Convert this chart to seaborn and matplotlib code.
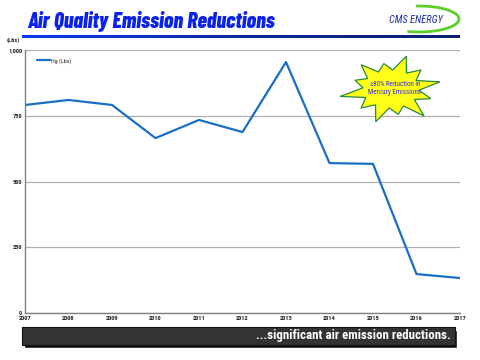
import numpy as np
import pandas as pd
import matplotlib
matplotlib.use("Agg")
import matplotlib.pyplot as plt
import seaborn as sns
from matplotlib.patches import Polygon, Rectangle, Arc

years = [2007, 2008, 2009, 2010, 2011, 2012, 2013, 2014, 2015, 2016, 2017]
hg_lbs = [791, 810, 791, 665, 734, 688, 954, 570, 567, 148, 133]
y_ticks = [0, 250, 500, 750, 1000]
y_tick_labels = ["0", "250", "500", "750", "1,000"]

W, H = 480, 360
HEAVY = ["Barlow Condensed", "Roboto Condensed", "Liberation Sans", "DejaVu Sans"]
COND = ["Roboto Condensed", "Archivo Narrow", "Liberation Sans", "DejaVu Sans"]


def fx(px):
    return px / W


def fy(py):
    return 1 - py / H


sns.set_theme(style="white")
plt.rcParams["font.family"] = ["Liberation Sans", "DejaVu Sans"]

df = pd.DataFrame({"year": years, "Hg (Lbs)": hg_lbs})

fig = plt.figure(figsize=(4.8, 3.6), dpi=100)
ax = fig.add_axes([fx(25), fy(313), fx(460) - fx(25), fy(50) - fy(313)])
sns.lineplot(data=df, x="year", y="Hg (Lbs)", ax=ax, color="#1a6fc4",
             linewidth=1.6, label="Hg (Lbs)")

ax.set_xlim(2007, 2017)
ax.set_ylim(0, 1000)
ax.set_xticks(years)
ax.set_xticklabels([str(y) for y in years], fontsize=4.6, fontweight="bold", family=COND)
ax.set_yticks(y_ticks)
ax.set_yticklabels(y_tick_labels, fontsize=4.6, fontweight="bold", family=COND)
ax.tick_params(axis="both", length=0, pad=2)
ax.set_xlabel("")
ax.set_ylabel("")
ax.yaxis.grid(True, color="#b0b0b0", linewidth=0.9)
ax.xaxis.grid(False)
for side in ["top", "right"]:
    ax.spines[side].set_visible(False)
for side in ["left", "bottom"]:
    ax.spines[side].set_color("#808080")
    ax.spines[side].set_linewidth(1.0)

leg = ax.legend(loc="upper left", bbox_to_anchor=(0.015, 0.99), frameon=False,
                handlelength=2.2, handletextpad=0.1,
                prop={"family": COND, "size": 4.3})

# y unit label
fig.text(fx(7), fy(40), "(Lbs)", fontsize=4.6, fontweight="bold", va="center", family=COND)

# title
fig.text(fx(27), fy(21), "Air Quality Emission Reductions", family=HEAVY,
         fontsize=15.7, fontweight="heavy", fontstyle="italic", color="#0a22ee",
         va="center", ha="left")

# gradient rule under the title
rule = fig.add_axes([fx(22), fy(38), fx(460) - fx(22), fy(35) - fy(38)])
grad = np.linspace(0, 1, 256).reshape(1, -1)
cmap = matplotlib.colors.LinearSegmentedColormap.from_list("rule", ["#0a3cf0", "#0a2a9a", "#0a1f70"])
rule.imshow(grad, aspect="auto", cmap=cmap)
rule.set_axis_off()

# logo
fig.text(fx(416), fy(20), "CMS ENERGY", fontsize=7.5, fontstyle="italic",
         color="#1a2aa0", ha="center", va="center", family=COND)
fig.patches.append(Arc((fx(419), fy(19)), fx(80), 26 / H, angle=0,
                       theta1=-125, theta2=100, color="#5ccf2a", linewidth=2.0,
                       transform=fig.transFigure))

# starburst
cx, cy = 391, 89
outer = [50, 40, 48, 36, 45, 38, 52, 40, 48, 36, 50, 42]
n = len(outer)
pts = []
for i in range(n):
    a_out = 2 * np.pi * i / n + 0.2
    a_in = a_out + np.pi / n
    r = outer[i]
    pts.append((fx(cx + r * np.cos(a_out)), fy(cy - r * 0.72 * np.sin(a_out))))
    pts.append((fx(cx + 28 * np.cos(a_in)), fy(cy - 19 * np.sin(a_in))))
star = Polygon(pts, closed=True, facecolor="#ffff1a", edgecolor="#2a8a3a",
               linewidth=0.9, transform=fig.transFigure, zorder=5)
fig.patches.append(star)
fig.text(fx(395), fy(88), "≥80% Reduction in\nMercury Emissions", fontsize=5,
         color="#3a30d8", ha="center", va="center", linespacing=1.2, zorder=6,
         family=COND)

# bottom banner
fig.patches.append(Rectangle((fx(24), fy(348)), fx(455) - fx(22), fy(327) - fy(345),
                             facecolor="#111111", transform=fig.transFigure, zorder=1))
fig.patches.append(Rectangle((fx(22), fy(345)), fx(455) - fx(22), fy(327) - fy(345),
                             facecolor="#333333", edgecolor="#111111", linewidth=0.8,
                             transform=fig.transFigure, zorder=2))
fig.text(fx(451), fy(336), "...significant air emission reductions.", family=COND,
         fontsize=9.3, fontweight="bold", color="white", ha="right", va="center", zorder=3)

fig.savefig("out.png", dpi=100)
